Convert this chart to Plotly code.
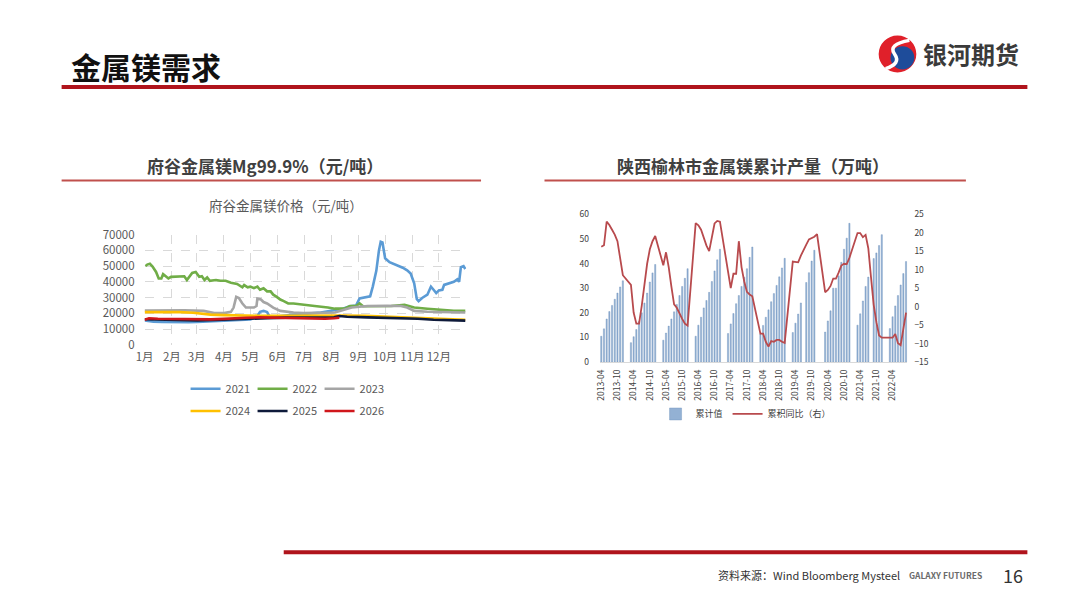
import plotly.graph_objects as go

# the page keeps the browser's 8px body margin, so the figure is drawn
# 16px smaller than the 1080x608 window and all positions are offset by 8px
FW, FH = 1064, 592
OFF = 8


def px(x):
    return (x - OFF) / FW


def py(y):
    return 1 - (y - OFF) / FH


CJK = "Noto Sans CJK SC"

# ---------------- left chart: 府谷金属镁价格 (day of year -> 元/吨)
month_ticks = [0, 31, 59, 90, 120, 151, 181, 212, 243, 273, 304, 334, 365]
month_labels = ["1月", "2月", "3月", "4月", "5月", "6月", "7月", "8月",
                "9月", "10月", "11月", "12月", ""]

days_2021 = [0, 10, 20, 30, 40, 50, 60, 75, 90, 105,
             120, 127, 131, 135, 139, 142, 150, 165, 180, 200,
             215, 225, 233, 240, 244, 250, 256, 259, 263, 266,
             268, 270, 273, 278, 287, 293, 298, 302, 306, 309,
             311, 315, 321, 325, 328, 331, 334, 338, 340, 345,
             351, 355, 357, 359, 362, 364]
price_2021 = [15500, 14800, 14600, 14400, 14300, 14400, 14600, 15000, 15400, 15800,
              16200, 17500, 21000, 21600, 20800, 17800, 18000, 19000, 19500, 20500,
              22000, 23000, 24500, 25000, 29500, 30300, 30800, 37000, 47000, 60000,
              65500, 65000, 55000, 52500, 50400, 49000, 47300, 45300, 39100, 29000,
              27800, 29800, 31900, 37000, 35000, 32900, 34600, 35000, 38100, 39100,
              40100, 41600, 40100, 49400, 50000, 48200]

days_2022 = [1, 3, 6, 9, 13, 16, 19, 21, 24, 27,
             30, 38, 45, 48, 51, 54, 58, 62, 65, 68,
             71, 74, 81, 86, 92, 98, 105, 111, 113, 117,
             120, 124, 128, 131, 135, 139, 143, 146, 150, 154,
             158, 163, 169, 176, 184, 193, 208, 216, 227, 233,
             240, 244, 248, 260, 280, 295, 306, 321, 336, 351,
             364]
price_2022 = [50000, 51000, 51500, 49800, 46300, 42200, 42200, 44900, 43600, 42200,
              43200, 43200, 43600, 41200, 43600, 45700, 46300, 43200, 43600, 41200,
              42800, 40700, 41200, 40700, 40700, 39500, 38700, 36600, 38000, 36600,
              37000, 36000, 37000, 35000, 36000, 34000, 34000, 31900, 30500, 28800,
              27800, 26300, 26300, 25700, 25100, 24700, 23700, 23000, 23000, 24700,
              24700, 26300, 24500, 24700, 24700, 25500, 23700, 23000, 22200, 21600,
              21600]

days_2023 = [0, 20, 45, 67, 79, 90, 98, 101, 104, 107,
             111, 115, 124, 127, 128, 132, 135, 139, 143, 146,
             154, 161, 169, 180, 190, 216, 235, 253, 275, 291,
             298, 306, 321, 340, 364]
price_2023 = [21800, 22000, 22000, 21600, 20200, 20200, 21000, 23700, 30500, 29800,
              26300, 23700, 23700, 24700, 29400, 28800, 27200, 26300, 24700, 23700,
              21600, 21000, 20600, 20200, 20400, 20600, 23700, 24700, 24800, 24700,
              23700, 21600, 21000, 20800, 20600]

days_2024 = [0, 20, 40, 55, 65, 75, 90, 110, 130, 150,
             175, 200, 225, 250, 275, 300, 315, 330, 345, 364]
price_2024 = [20800, 21000, 20800, 20400, 19800, 19200, 18900, 18600, 18500, 18500,
              18600, 18800, 18700, 18500, 18000, 17500, 17200, 16800, 16300, 16000]

days_2025 = [0, 20, 40, 60, 80, 100, 120, 140, 160, 180,
             200, 215, 221, 230, 253, 291, 310, 328, 350, 364]
price_2025 = [16300, 16000, 15800, 15500, 15800, 16300, 16600, 17000, 17300, 17300,
              17200, 17500, 18300, 17900, 17500, 17100, 16600, 16000, 15600, 15400]

days_2026 = [0, 5, 15, 30, 45, 60, 75, 90, 100, 115,
             130, 145, 160, 175, 190, 205, 215, 221]
price_2026 = [16000, 16900, 16600, 16500, 16300, 16000, 16200, 16500, 16900, 17200,
              17500, 17300, 17000, 16700, 16500, 16600, 16900, 17200]

price_series = [
    ("2021", days_2021, price_2021, "#5B9BD5", "legend"),
    ("2022", days_2022, price_2022, "#70AD47", "legend"),
    ("2023", days_2023, price_2023, "#A5A5A5", "legend"),
    ("2024", days_2024, price_2024, "#FFC000", "legend2"),
    ("2025", days_2025, price_2025, "#0E1A3A", "legend2"),
    ("2026", days_2026, price_2026, "#D0161B", "legend2"),
]

# ---------------- right chart: 陕西榆林市金属镁累计产量 (2013-04 .. 2022-09)
cum_value = [
    10.5, 13.5, 17.5, 20.5, 23.0, 25.5, 28.0, 30.5, 33.0,                       # 2013 Apr-Dec
    None, None, 7.9, 10.3, 13.2, 16.5, 20.0, 24.0, 28.0, 32.5, 36.2, 39.6,      # 2014
    None, None, 8.9, 11.8, 14.6, 17.5, 20.4, 23.4, 27.0, 30.7, 34.0, 37.9,      # 2015
    None, None, 10.5, 15.0, 18.2, 22.0, 25.0, 28.3, 32.7, 37.0, 41.5, 45.8,     # 2016
    None, None, 11.6, 15.5, 19.7, 23.7, 27.0, 30.7, 34.4, 37.9, 42.5, 46.7,     # 2017
    None, None, 11.5, 14.9, 18.2, 21.2, 24.5, 27.8, 31.1, 34.6, 38.2, 42.1,     # 2018
    None, None, 12.0, 15.8, 19.5, 24.0, None, 32.3, 36.3, 41.0, 45.4, None,     # 2019
    None, None, 12.2, 16.7, 20.8, 30.0, 30.0, 35.0, 40.5, 45.8, 50.3, 56.3,     # 2020
    None, None, 15.0, 19.6, 24.8, 30.7, 34.5, None, 42.0, 44.3, 47.3, 51.7,     # 2021
    None, None, 13.6, 18.4, 22.8, 27.0, 31.3, 35.9, 40.8,                       # 2022 Jan-Sep
]
yoy_pct = [
    16.2, 16.6, 23.0, 22.1, 20.8, 19.5, 17.7, 13.3, 8.5,
    None, None, 5.9, -1.6, -4.6, -4.6, 0.2, 6.3, 11.6, 15.5, 17.7, 19.1,
    None, None, 11.2, 14.7, 10.7, 5.4, 0.6, -0.3, -2.0, -3.3, -4.6, -5.1,
    None, None, 22.6, 22.0, 20.8, 18.5, 16.5, 15.0, 19.0, 22.5, 23.2, 23.0,
    None, None, 9.5, 5.0, 8.9, 8.9, 17.7, 10.7, 6.8, 4.0, 3.3, 2.8,
    None, None, -7.3, -7.3, -9.5, -10.8, -9.3, -9.5, -9.0, -9.0, -9.5, -9.8,
    None, None, 12.2, 12.2, 12.0, 13.8, 15.5, 16.8, 18.2, 18.6, 18.9, 19.6,
    None, None, 3.9, 4.5, 5.6, 7.6, 7.6, 9.2, 11.1, 11.6, 11.5, 13.2,
    None, None, 19.9, 19.9, 18.8, 19.4, 15.8, 8.0, 0.5, -4.2, -7.8, -8.4,
    None, None, -8.4, -8.4, -7.4, -9.9, -10.4, -6.0, -1.6,
]

months = []
for yr in range(2013, 2023):
    for mo in range(1, 13):
        if (yr == 2013 and mo < 4) or (yr == 2022 and mo > 9):
            continue
        months.append(f"{yr}-{mo:02d}")
month_tickvals = [m for m in months if m[-2:] in ("04", "10")]

fig = go.Figure()

for name, d, v, color, lg in price_series:
    fig.add_trace(go.Scatter(
        x=d, y=v, name=name, mode="lines", legend=lg,
        line=dict(color=color, width=2.6),
        xaxis="x", yaxis="y",
    ))

fig.add_trace(go.Bar(
    x=months, y=cum_value, name="累计值", legend="legend3",
    marker=dict(color="#93B1D4", line=dict(color="#6C90BC", width=0.4)),
    xaxis="x2", yaxis="y2",
))
fig.add_trace(go.Scatter(
    x=months, y=yoy_pct, name="累积同比（右）", legend="legend3",
    mode="lines", connectgaps=True,
    line=dict(color="#B84A4D", width=1.8),
    xaxis="x2", yaxis="y3",
))

tick_font = dict(family=CJK, size=11.5, color="#595959")
small_font = dict(family=CJK, size=8.5, color="#404040")
leg_common = dict(orientation="h", bgcolor="rgba(0,0,0,0)", entrywidth=22,
                  entrywidthmode="pixels", itemwidth=30, traceorder="normal",
                  font=dict(family=CJK, size=11, color="#595959"),
                  xanchor="left", yanchor="middle")

fig.update_layout(
    width=FW, height=FH,
    margin=dict(l=0, r=0, t=0, b=0),
    paper_bgcolor="white", plot_bgcolor="white",
    font=dict(family=CJK),
    bargap=0.55,
    xaxis=dict(domain=[px(136.7), px(461)], range=[0, 365],
               tickvals=month_ticks, ticktext=month_labels,
               showgrid=True, gridcolor="#D9D9D9", griddash="dash", gridwidth=1,
               zeroline=False, showline=False, ticks="",
               tickfont=tick_font, ticklabelstandoff=4),
    yaxis=dict(domain=[py(345), py(231.7)], range=[0, 70000], dtick=10000,
               tickformat="d",
               showgrid=True, gridcolor="#D9D9D9", griddash="dash", gridwidth=1,
               zeroline=False, showline=False, ticks="",
               tickfont=tick_font, ticklabelstandoff=9),
    xaxis2=dict(domain=[px(595.9), px(906)], type="category",
                categoryorder="array", categoryarray=months,
                range=[-0.5, len(months) - 0.5],
                tickvals=month_tickvals, ticktext=month_tickvals,
                tickangle=-90, tickfont=small_font,
                showgrid=False, zeroline=False,
                showline=True, linecolor="#D9D9D9", ticks="",
                ticklabelstandoff=3, anchor="y2"),
    yaxis2=dict(domain=[py(362.7), py(210.7)], range=[0, 60], dtick=10,
                showgrid=False, zeroline=False, ticks="",
                tickfont=small_font, ticklabelstandoff=10, anchor="x2"),
    yaxis3=dict(domain=[py(362.7), py(210.7)], range=[-15, 25], dtick=5,
                overlaying="y2", side="right", anchor="x2",
                showgrid=False, zeroline=False, ticks="",
                tickfont=small_font, ticklabelstandoff=6),
    legend=dict(x=px(178), y=py(390), **leg_common),
    legend2=dict(x=px(178), y=py(413), **leg_common),
    legend3=dict(x=px(652), y=py(416), orientation="h",
                 bgcolor="rgba(0,0,0,0)", xanchor="left", yanchor="middle",
                 font=dict(family=CJK, size=9, color="#404040"),
                 itemwidth=30, traceorder="normal"),
)

shapes = [
    # header / footer rules
    dict(type="line", xref="paper", yref="paper", x0=px(53), x1=px(1027),
         y0=py(80), y1=py(80), line=dict(color="#B0141C", width=4)),
    dict(type="line", xref="paper", yref="paper", x0=px(277), x1=px(1027),
         y0=py(558), y1=py(558), line=dict(color="#B0141C", width=4)),
    # chart title underlines
    dict(type="line", xref="paper", yref="paper", x0=px(53), x1=px(476),
         y0=py(176), y1=py(176), line=dict(color="#C0504D", width=2)),
    dict(type="line", xref="paper", yref="paper", x0=px(540), x1=px(965),
         y0=py(176), y1=py(176), line=dict(color="#C0504D", width=2)),
    # logo
    dict(type="circle", xref="paper", yref="paper",
         x0=px(877), x1=px(915), y0=py(65), y1=py(27),
         fillcolor="#E0202A", line=dict(width=0)),
    dict(type="circle", xref="paper", yref="paper",
         x0=px(889), x1=px(913), y0=py(62), y1=py(38),
         fillcolor="#1E4C9A", line=dict(width=0)),
    dict(type="path", xref="paper", yref="paper",
         path=f"M {px(908)},{py(32)} Q {px(886)},{py(36)} {px(893)},{py(46)} "
              f"T {px(884)},{py(61)}",
         line=dict(color="white", width=3.5)),
]
fig.update_layout(shapes=shapes)

annotations = [
    dict(text="<b>金属镁需求</b>", x=px(60), y=py(58), xanchor="left", yanchor="middle",
         font=dict(family=CJK, size=30, color="#111111")),
    dict(text="<b>银河期货</b>", x=px(920), y=py(46), xanchor="left", yanchor="middle",
         font=dict(family=CJK, size=24, color="#3A3A3A")),
    dict(text="<b>府谷金属镁Mg99.9%（元/吨）</b>", x=px(258), y=py(161),
         xanchor="center", yanchor="middle",
         font=dict(family=CJK, size=17, color="#404040")),
    dict(text="<b>陕西榆林市金属镁累计产量（万吨）</b>", x=px(750), y=py(161),
         xanchor="center", yanchor="middle",
         font=dict(family=CJK, size=17, color="#404040")),
    dict(text="府谷金属镁价格（元/吨）", x=px(279), y=py(201),
         xanchor="center", yanchor="middle",
         font=dict(family=CJK, size=13.5, color="#595959")),
    dict(text="资料来源：Wind Bloomberg Mysteel", x=px(901), y=py(581),
         xanchor="right", yanchor="middle",
         font=dict(family=CJK, size=11, color="#333333")),
    dict(text="<b>GALAXY FUTURES</b>", x=px(906), y=py(581),
         xanchor="left", yanchor="middle",
         font=dict(family=CJK, size=8.5, color="#6B6B6B")),
    dict(text="16", x=px(1025), y=py(581), xanchor="right", yanchor="middle",
         font=dict(family=CJK, size=18, color="#333333")),
]
for a in annotations:
    a.update(xref="paper", yref="paper", showarrow=False)
fig.update_layout(annotations=annotations)

fig.write_html("out.html")
